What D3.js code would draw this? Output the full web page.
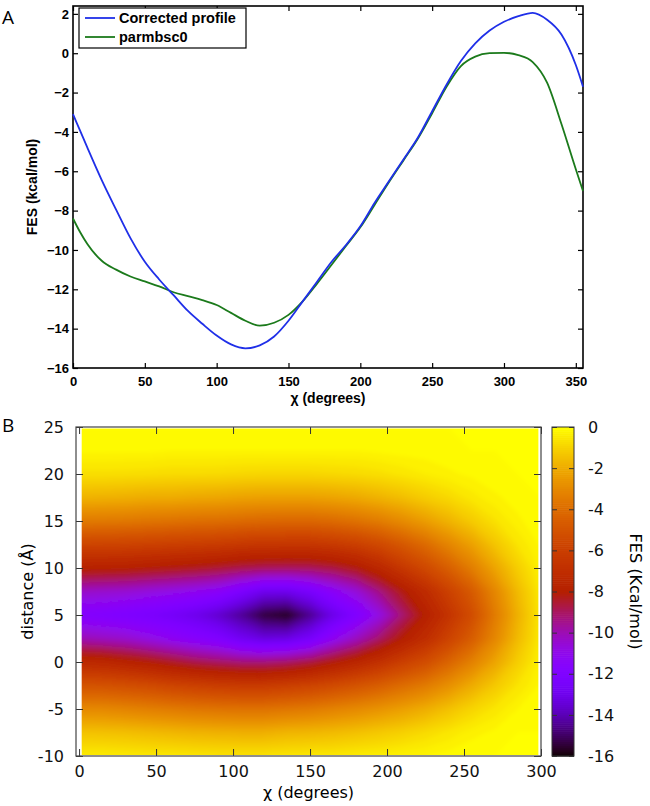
<!DOCTYPE html>
<html><head><meta charset="utf-8">
<script src="https://cdn.jsdelivr.net/npm/d3@7"></script>
<style>body{margin:0;background:#fff}</style>
</head><body>
<svg id="fig" width="650" height="806"></svg>
<script>
// ---------------- Panel A data ----------------
const chiA = [0,5,10,20,30,40,50,60,70,80,90,100,110,120,130,140,150,160,170,180,190,200,210,220,230,240,250,260,270,280,290,300,310,320,330,340,350,355];
const correctedProfile = [-3.1,-3.95,-4.8,-6.45,-7.95,-9.4,-10.6,-11.5,-12.3,-13.1,-13.75,-14.35,-14.8,-15.0,-14.85,-14.4,-13.6,-12.6,-11.6,-10.6,-9.75,-8.8,-7.6,-6.5,-5.4,-4.3,-2.95,-1.6,-0.4,0.5,1.15,1.6,1.88,2.05,1.7,0.95,-0.6,-1.7];
const parmbsc0 = [-8.4,-9.1,-9.7,-10.55,-11.0,-11.35,-11.6,-11.85,-12.15,-12.35,-12.55,-12.8,-13.2,-13.6,-13.85,-13.7,-13.3,-12.6,-11.7,-10.75,-9.8,-8.85,-7.7,-6.55,-5.45,-4.35,-3.05,-1.7,-0.65,-0.17,0.0,0.02,-0.1,-0.45,-1.5,-3.6,-5.9,-7.0];
const xTicksA = [0,50,100,150,200,250,300,350];
const yTicksA = [-16,-14,-12,-10,-8,-6,-4,-2,0,2];
const seriesNames = ["Corrected profile","parmbsc0"];

// ---------------- Panel B data ----------------
const chiB = [0,15,30,45,60,75,90,105,120,135,150,165,180,195,210,225,240,255,270,285,300];
const distB = [25,22.5,20,17.5,15,12.5,10,7.5,5,2.5,0,-2.5,-5,-7.5,-10];
const fesRows = [
 [0,0,0,0,0,0,0,0,0,0,0,0,0,0,0,0,0,0,0,0,0],
 [-0.15,-0.15,-0.15,-0.15,-0.2,-0.2,-0.2,-0.2,-0.2,-0.2,-0.2,-0.2,-0.2,-0.15,-0.1,-0.08,-0.05,0,0,0,0],
 [-0.7,-0.7,-0.72,-0.75,-0.8,-0.8,-0.82,-0.87,-0.9,-0.9,-0.9,-0.85,-0.8,-0.7,-0.55,-0.4,-0.25,-0.15,-0.05,0,0],
 [-1.8,-1.85,-1.9,-2.0,-2.0,-2.1,-2.15,-2.25,-2.3,-2.3,-2.3,-2.2,-2.05,-1.8,-1.5,-1.15,-0.85,-0.5,-0.25,-0.1,0],
 [-3.5,-3.55,-3.6,-3.7,-3.8,-3.9,-3.95,-4.05,-4.15,-4.2,-4.2,-4.05,-3.8,-3.45,-2.95,-2.4,-1.8,-1.2,-0.65,-0.25,-0.05],
 [-5.7,-5.75,-5.8,-5.9,-6.0,-6.1,-6.2,-6.35,-6.45,-6.5,-6.5,-6.3,-6.0,-5.5,-4.8,-4.05,-3.15,-2.3,-1.35,-0.6,-0.15],
 [-7.8,-7.85,-7.9,-8.05,-8.2,-8.35,-8.55,-8.8,-8.95,-9.0,-8.95,-8.7,-8.2,-7.4,-6.4,-5.5,-4.5,-3.4,-2.2,-1.1,-0.3],
 [-10.3,-10.4,-10.5,-10.7,-10.9,-11.1,-11.4,-12.2,-13.0,-13.0,-12.4,-11.4,-10.6,-9.4,-8.2,-7.1,-5.9,-4.7,-3.1,-1.6,-0.45],
 [-11.8,-11.9,-12.1,-12.3,-12.6,-13.0,-13.6,-14.4,-15.4,-15.7,-14.5,-13.1,-12.0,-10.8,-9.2,-7.9,-6.6,-5.3,-3.5,-1.85,-0.5],
 [-10.0,-10.2,-10.4,-10.8,-11.2,-11.6,-12.0,-12.8,-13.3,-13.2,-12.5,-11.2,-10.2,-9.1,-8.0,-7.0,-5.8,-4.6,-3.1,-1.6,-0.45],
 [-7.3,-7.4,-7.7,-8.0,-8.4,-8.8,-9.05,-9.25,-9.3,-9.1,-8.7,-8.1,-7.5,-6.8,-6.0,-5.3,-4.3,-3.3,-2.2,-1.1,-0.3],
 [-5.0,-5.05,-5.2,-5.4,-5.7,-5.9,-6.1,-6.2,-6.2,-6.0,-5.75,-5.4,-5.0,-4.55,-4.0,-3.5,-2.8,-2.0,-1.25,-0.6,-0.15],
 [-3.0,-3.05,-3.2,-3.35,-3.5,-3.65,-3.75,-3.8,-3.8,-3.65,-3.5,-3.25,-3.0,-2.7,-2.35,-1.95,-1.45,-0.95,-0.55,-0.2,-0.05],
 [-1.4,-1.45,-1.5,-1.6,-1.7,-1.8,-1.85,-1.9,-1.9,-1.75,-1.7,-1.6,-1.45,-1.25,-1.05,-0.8,-0.55,-0.3,-0.15,0,0],
 [-0.4,-0.4,-0.45,-0.5,-0.5,-0.55,-0.6,-0.6,-0.6,-0.55,-0.5,-0.5,-0.4,-0.35,-0.25,-0.2,-0.1,0,0,0,0]
];
const xTicksB = [0,50,100,150,200,250,300];
const yTicksB = [-10,-5,0,5,10,15,20,25];
const cbTicks = [0,-2,-4,-6,-8,-10,-12,-14,-16];

// ---------------- drawing ----------------
const svg = d3.select("#fig");
const fontA = "'Liberation Sans', Arial, Helvetica, sans-serif";
const fontB = "'DejaVu Sans', Verdana, sans-serif";

// Panel A
const xA = d3.scaleLinear([0,355],[73,583]);
const yA = d3.scaleLinear([-16,2.4],[368,6]);
const gA = svg.append("g");

function styleAxisA(g){
  g.select(".domain").remove();
  g.attr("font-family", fontA).attr("font-size", 13).attr("font-weight","bold");
  g.selectAll("line").attr("stroke","#000").attr("stroke-width",1.2);
  g.selectAll("text").attr("fill","#000");
}
gA.append("g").attr("transform",`translate(0,${yA(-16)})`)
  .call(d3.axisBottom(xA).tickValues(xTicksA).tickSizeInner(-5).tickSizeOuter(0).tickPadding(9)).call(styleAxisA);
gA.append("g").attr("transform",`translate(0,${yA(2.4)})`)
  .call(d3.axisTop(xA).tickValues(xTicksA).tickSizeInner(-5).tickSizeOuter(0).tickFormat("")).call(styleAxisA);
gA.append("g").attr("transform",`translate(${xA(0)},0)`)
  .call(d3.axisLeft(yA).tickValues(yTicksA).tickSizeInner(-5).tickSizeOuter(0).tickPadding(4)).call(styleAxisA);
gA.append("g").attr("transform",`translate(${xA(355)},0)`)
  .call(d3.axisRight(yA).tickValues(yTicksA).tickSizeInner(-5).tickSizeOuter(0).tickFormat("")).call(styleAxisA);
gA.append("rect").attr("x",xA(0)).attr("y",yA(2.4)).attr("width",xA(355)-xA(0)).attr("height",yA(-16)-yA(2.4))
  .attr("fill","none").attr("stroke","#000").attr("stroke-width",1.6);

const lineA = (vals) => d3.line().x((d,i)=>xA(chiA[i])).y(d=>yA(d)).curve(d3.curveMonotoneX)(vals);
const colorsA = ["#1f2fe8","#1b7a1b"];
gA.append("path").attr("d",lineA(parmbsc0)).attr("fill","none").attr("stroke",colorsA[1]).attr("stroke-width",1.8);
gA.append("path").attr("d",lineA(correctedProfile)).attr("fill","none").attr("stroke",colorsA[0]).attr("stroke-width",1.8);

// legend
const leg = gA.append("g");
leg.append("rect").attr("x",79).attr("y",8).attr("width",167).attr("height",40).attr("fill","#fff").attr("stroke","#000").attr("stroke-width",1.2);
seriesNames.forEach((name,i)=>{
  const yy = 18 + i*19;
  leg.append("line").attr("x1",85).attr("x2",115).attr("y1",yy).attr("y2",yy).attr("stroke",colorsA[i]).attr("stroke-width",1.8);
  leg.append("text").attr("x",119).attr("y",yy).attr("dy","0.36em").attr("font-family",fontA).attr("font-weight","bold").attr("font-size",14.5).text(name);
});
gA.append("text").attr("x",(xA(0)+xA(355))/2).attr("y",403).attr("text-anchor","middle")
  .attr("font-family",fontA).attr("font-weight","bold").attr("font-size",14).text("χ (degrees)");
gA.append("text").attr("transform",`translate(37,${(yA(2.4)+yA(-16))/2}) rotate(-90)`).attr("text-anchor","middle")
  .attr("font-family",fontA).attr("font-weight","bold").attr("font-size",14).text("FES (kcal/mol)");
svg.append("text").attr("x",2).attr("y",24).attr("font-family","'Open Sans', 'DejaVu Sans', sans-serif").attr("font-size",19).text("A");

// Panel B
const xB = d3.scaleLinear([-2,300],[76,541]);
const yB = d3.scaleLinear([-10,25],[756,427]);
const fesColor = v => {
  const t = Math.max(0, Math.min(1, (v+16)/16));
  return d3.rgb(255*Math.sqrt(t), 255*t*t*t, 255*Math.max(0, Math.sin(2*Math.PI*t))).formatHex();
};
const nX = chiB.length, nY = distB.length;
const gridX = d3.scaleLinear([0.5, nX-0.5],[chiB[0], chiB[nX-1]]);
const gridY = d3.scaleLinear([0.5, nY-0.5],[distB[0], distB[nY-1]]);
const values = fesRows.flat();
const step = 0.2;
const thresholds = d3.range(-16, 0.001, step);
const contours = d3.contours().size([nX,nY]).thresholds(thresholds)(values);
const proj = d3.geoTransform({point(x,y){ this.stream.point(xB(gridX(x)), yB(gridY(y))); }});
const pathB = d3.geoPath(proj);

const defs = svg.append("defs");
defs.append("clipPath").attr("id","clipB").append("rect")
  .attr("x",xB(1.7)).attr("y",yB(24.85)).attr("width",xB(298.3)-xB(1.7)).attr("height",yB(-9.9)-yB(24.85));
defs.append("filter").attr("id","soft").attr("x","-5%").attr("y","-5%").attr("width","110%").attr("height","110%")
  .append("feGaussianBlur").attr("stdDeviation",2.2);

const gB = svg.append("g").attr("clip-path","url(#clipB)").append("g").attr("filter","url(#soft)");
gB.selectAll("path").data(contours).join("path")
  .attr("d",pathB).attr("fill",d=>fesColor(Math.min(0,d.value+step/2))).attr("stroke",d=>fesColor(Math.min(0,d.value+step/2))).attr("stroke-width",0.5);

function styleAxisB(g){
  g.select(".domain").remove();
  g.attr("font-family", fontB).attr("font-size", 16);
  g.selectAll("line").attr("stroke","#333").attr("stroke-width",1);
  g.selectAll("text").attr("fill","#111");
}
svg.append("g").attr("transform",`translate(0,${yB(-10)})`)
  .call(d3.axisBottom(xB).tickValues(xTicksB).tickSizeInner(-7).tickSizeOuter(0).tickPadding(10)).call(styleAxisB);
svg.append("g").attr("transform",`translate(0,${yB(25)})`)
  .call(d3.axisTop(xB).tickValues(xTicksB).tickSizeInner(-7).tickSizeOuter(0).tickFormat("")).call(styleAxisB);
svg.append("g").attr("transform",`translate(${xB(-2)},0)`)
  .call(d3.axisLeft(yB).tickValues(yTicksB).tickSizeInner(-7).tickSizeOuter(0).tickPadding(12).tickFormat(d=>String(d))).call(styleAxisB);
svg.append("g").attr("transform",`translate(${xB(300)},0)`)
  .call(d3.axisRight(yB).tickValues(yTicksB).tickSizeInner(-7).tickSizeOuter(0).tickFormat("")).call(styleAxisB);
svg.append("rect").attr("x",xB(-2)).attr("y",yB(25)).attr("width",xB(300)-xB(-2)).attr("height",yB(-10)-yB(25))
  .attr("fill","none").attr("stroke","#444").attr("stroke-width",1.2);
svg.append("text").attr("x",(xB(-2)+xB(300))/2).attr("y",798).attr("text-anchor","middle")
  .attr("font-family",fontB).attr("font-size",16).text("χ (degrees)");
svg.append("text").attr("transform",`translate(27,${(yB(25)+yB(-10))/2}) rotate(-90)`).attr("text-anchor","middle").attr("dy","0.35em")
  .attr("font-family",fontB).attr("font-size",16).text("distance (Å)");
svg.append("text").attr("x",2).attr("y",432).attr("font-family","'Open Sans', 'DejaVu Sans', sans-serif").attr("font-size",19).text("B");

// colorbar
const yC = d3.scaleLinear([-16,0],[756,427]);
const cbX0 = 552, cbX1 = 574;
const cbSteps = d3.range(-16, 0, 0.1);
svg.append("g").selectAll("rect").data(cbSteps).join("rect")
  .attr("x",cbX0).attr("width",cbX1-cbX0).attr("y",d=>yC(d+0.1)).attr("height",d=>yC(d)-yC(d+0.1)+0.6)
  .attr("fill",d=>fesColor(d+0.05));
svg.append("g").attr("transform",`translate(${cbX1},0)`)
  .call(d3.axisRight(yC).tickValues(cbTicks).tickSizeInner(5).tickSizeOuter(0).tickPadding(9).tickFormat(d=>String(d)))
  .call(g=>{g.select(".domain").remove(); g.attr("font-family",fontB).attr("font-size",16);
    g.selectAll("line").attr("x1",-5).attr("x2",0).attr("stroke","#333"); g.selectAll("text").attr("x",14).attr("fill","#111");});
svg.append("g").attr("transform",`translate(${cbX0},0)`)
  .call(d3.axisRight(yC).tickValues(cbTicks).tickSizeInner(5).tickSizeOuter(0).tickFormat(""))
  .call(g=>{g.select(".domain").remove(); g.selectAll("line").attr("stroke","#333");});
svg.append("rect").attr("x",cbX0).attr("y",yC(0)).attr("width",cbX1-cbX0).attr("height",yC(-16)-yC(0))
  .attr("fill","none").attr("stroke","#333").attr("stroke-width",1);
svg.append("text").attr("transform",`translate(636,${(yC(0)+yC(-16))/2}) rotate(90)`).attr("text-anchor","middle").attr("dy","0.35em")
  .attr("font-family",fontB).attr("font-size",16).text("FES (Kcal/mol)");
</script>
</body></html>
